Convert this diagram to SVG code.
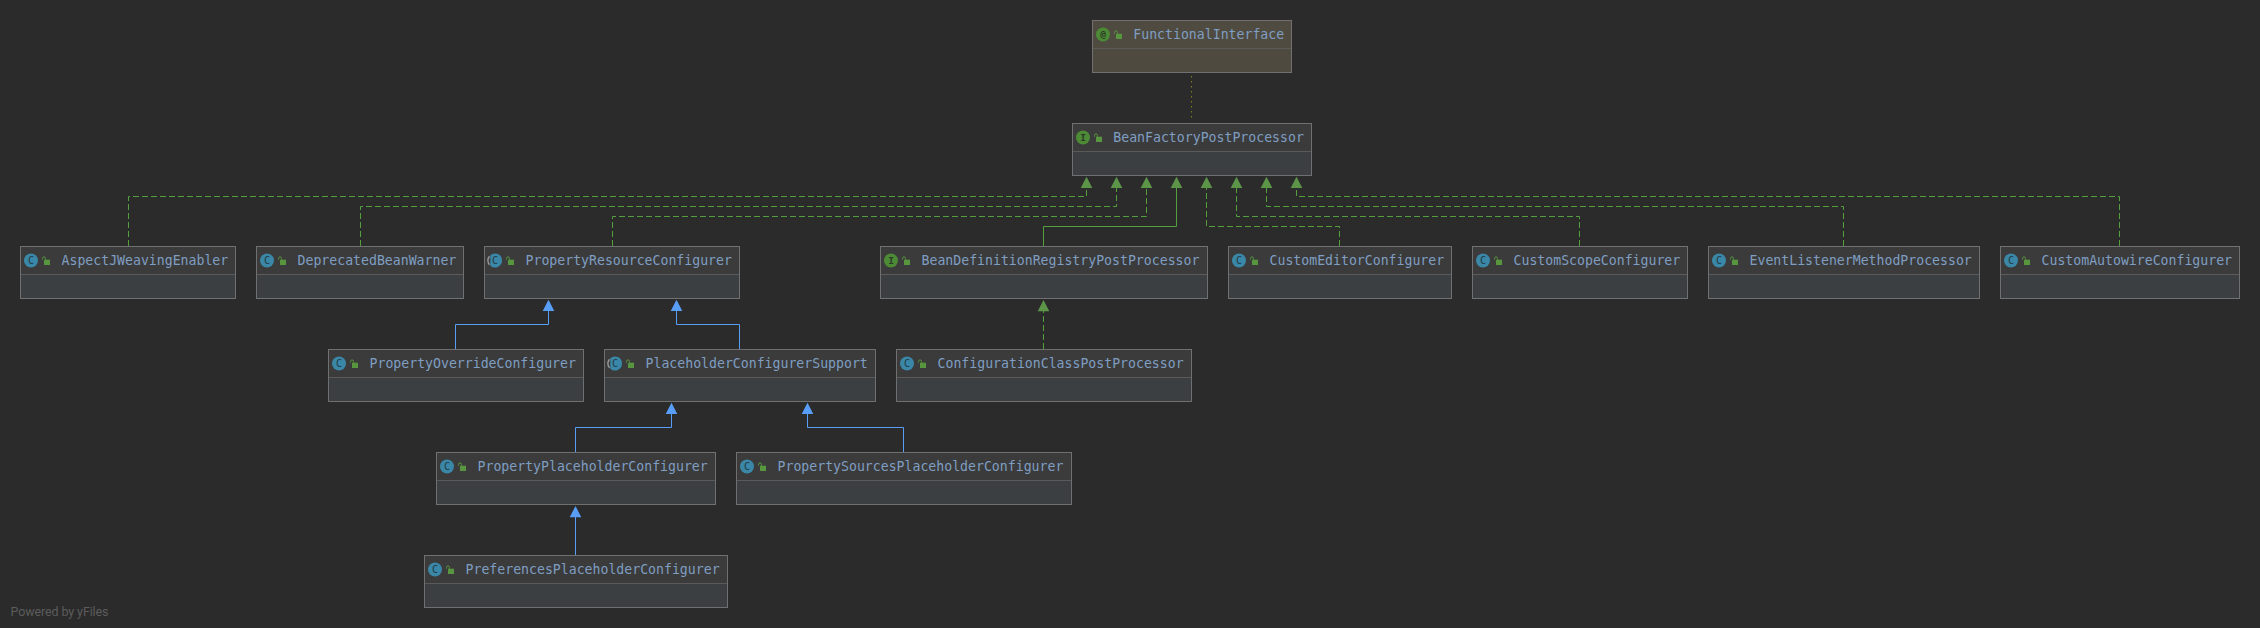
<svg xmlns="http://www.w3.org/2000/svg" width="2260" height="628" viewBox="0 0 2260 628">
<style>
.h{fill:#3b3b3b}.b{fill:#3c3f41}.f{fill:none;stroke:#707070;stroke-width:1}
.d{stroke:#5a5a5a;stroke-width:1}
.ah{fill:#4f4b41}.ab{fill:#4e4a3f}
.t{font-family:"DejaVu Sans Mono","Liberation Mono",monospace;font-size:13.2px;fill:#7f9ec2}
.g{font-family:"DejaVu Sans Mono",monospace;font-size:10px;fill:#233a44;text-anchor:middle}
.gi{font-family:"DejaVu Sans Mono",monospace;font-weight:bold;font-size:9.5px;fill:#2b3a26;text-anchor:middle}
.e{fill:none;stroke-width:1}
.gr{stroke:#559e3e}.bl{stroke:#589df6}
.da{stroke-dasharray:6 3}
.at{fill:#5c9548}.ab2{fill:#589df6}
.p{font-family:Roboto,"Liberation Sans",sans-serif;font-size:12.5px;fill:#5c5c5c}
</style>
<defs>
<g id="lock"><rect x="2" y="-0.8" width="6" height="5.3" fill="#57953f"/><path d="M0.5 -0.8V-2Q0.5 -3.6 2 -3.6Q3.5 -3.6 3.5 -2V-0.8" fill="none" stroke="#57953f" stroke-width="1"/></g>
<g id="ic"><circle r="7" fill="#3a87a8"/><text class="g" y="3.4">C</text></g>
<g id="ia"><path d="M-4.7 -5.2A7 7 0 0 1 7 0A7 7 0 0 1 -4.7 5.2Z" fill="#3a87a8"/><path d="M-5.5 -4.3A7 7 0 0 0 -5.5 4.3" fill="none" stroke="#9a9a9a" stroke-width="1.4"/><text class="g" y="3.4">C</text></g>
<g id="ii"><circle r="7" fill="#4d8a36"/><text class="gi" y="3.2">I</text></g>
<g id="ian"><circle r="7" fill="#4d8a36"/><text class="gi" y="3.2">@</text></g>
<path id="ag" d="M0 0L5.8 11.2H-5.8Z" class="at"/>
<path id="ab" d="M0 0L5.8 11.2H-5.8Z" class="ab2"/>
</defs>
<rect width="2260" height="628" fill="#2b2b2b"/>
<g id="connectors">
<path class="e" stroke="#7d7d20" stroke-dasharray="1.5 3.5" d="M1191.5 76V121"/>
<path class="e gr da" d="M128.5 246V196.5H1086.5V187"/>
<path class="e gr da" d="M360.5 246V206.5H1116.5V187"/>
<path class="e gr da" d="M612.5 246V216.5H1146.5V187"/>
<path class="e gr" d="M1043.5 246V226.5H1176.5V187"/>
<path class="e gr da" d="M1339.5 246V226.5H1206.5V187"/>
<path class="e gr da" d="M1579.5 246V216.5H1236.5V187"/>
<path class="e gr da" d="M1843.5 246V206.5H1266.5V187"/>
<path class="e gr da" d="M2119.5 246V196.5H1296.5V187"/>
<path class="e gr da" d="M1043.5 349V311"/>
<path class="e bl" d="M455.5 349V324.5H548.5V310"/>
<path class="e bl" d="M739.5 349V324.5H676.5V310"/>
<path class="e bl" d="M575.5 452V427.5H671.5V413"/>
<path class="e bl" d="M903.5 452V427.5H807.5V413"/>
<path class="e bl" d="M575.5 555V516"/>
<use href="#ag" x="1086.5" y="176.7"/><use href="#ag" x="1116.5" y="176.7"/><use href="#ag" x="1146.5" y="176.7"/><use href="#ag" x="1176.5" y="176.7"/><use href="#ag" x="1206.5" y="176.7"/><use href="#ag" x="1236.5" y="176.7"/><use href="#ag" x="1266.5" y="176.7"/><use href="#ag" x="1296.5" y="176.7"/>
<use href="#ag" x="1043.5" y="300"/>
<use href="#ab" x="548.5" y="299.7"/><use href="#ab" x="676.5" y="299.7"/><use href="#ab" x="671.5" y="402.7"/><use href="#ab" x="807.5" y="402.7"/><use href="#ab" x="575.5" y="506"/>
</g>
<g id="FunctionalInterface"><rect class="ab" x="1092.5" y="20.5" width="199" height="52"/><rect class="ah" x="1092.5" y="20.5" width="199" height="28"/><path class="d" d="M1092.5 48.5H1291.5"/><rect class="f" x="1092.5" y="20.5" width="199" height="52"/><use href="#ian" x="1103" y="34.5"/><use href="#lock" x="1114" y="34.5"/><text class="t" x="1133.3" y="39">FunctionalInterface</text></g>
<g id="BeanFactoryPostProcessor"><rect class="b" x="1072.5" y="123.5" width="239" height="52"/><rect class="h" x="1072.5" y="123.5" width="239" height="28"/><path class="d" d="M1072.5 151.5H1311.5"/><rect class="f" x="1072.5" y="123.5" width="239" height="52"/><use href="#ii" x="1083" y="137.5"/><use href="#lock" x="1094" y="137.5"/><text class="t" x="1113.3" y="142">BeanFactoryPostProcessor</text></g>
<g id="AspectJWeavingEnabler"><rect class="b" x="20.5" y="246.5" width="215" height="52"/><rect class="h" x="20.5" y="246.5" width="215" height="28"/><path class="d" d="M20.5 274.5H235.5"/><rect class="f" x="20.5" y="246.5" width="215" height="52"/><use href="#ic" x="31" y="260.5"/><use href="#lock" x="42" y="260.5"/><text class="t" x="61.5" y="265">AspectJWeavingEnabler</text></g>
<g id="DeprecatedBeanWarner"><rect class="b" x="256.5" y="246.5" width="207" height="52"/><rect class="h" x="256.5" y="246.5" width="207" height="28"/><path class="d" d="M256.5 274.5H463.5"/><rect class="f" x="256.5" y="246.5" width="207" height="52"/><use href="#ic" x="267" y="260.5"/><use href="#lock" x="278" y="260.5"/><text class="t" x="297.5" y="265">DeprecatedBeanWarner</text></g>
<g id="PropertyResourceConfigurer"><rect class="b" x="484.5" y="246.5" width="255" height="52"/><rect class="h" x="484.5" y="246.5" width="255" height="28"/><path class="d" d="M484.5 274.5H739.5"/><rect class="f" x="484.5" y="246.5" width="255" height="52"/><use href="#ia" x="495" y="260.5"/><use href="#lock" x="506" y="260.5"/><text class="t" x="525.5" y="265">PropertyResourceConfigurer</text></g>
<g id="BeanDefinitionRegistryPostProcessor"><rect class="b" x="880.5" y="246.5" width="327" height="52"/><rect class="h" x="880.5" y="246.5" width="327" height="28"/><path class="d" d="M880.5 274.5H1207.5"/><rect class="f" x="880.5" y="246.5" width="327" height="52"/><use href="#ii" x="891" y="260.5"/><use href="#lock" x="902" y="260.5"/><text class="t" x="921.5" y="265">BeanDefinitionRegistryPostProcessor</text></g>
<g id="CustomEditorConfigurer"><rect class="b" x="1228.5" y="246.5" width="223" height="52"/><rect class="h" x="1228.5" y="246.5" width="223" height="28"/><path class="d" d="M1228.5 274.5H1451.5"/><rect class="f" x="1228.5" y="246.5" width="223" height="52"/><use href="#ic" x="1239" y="260.5"/><use href="#lock" x="1250" y="260.5"/><text class="t" x="1269.5" y="265">CustomEditorConfigurer</text></g>
<g id="CustomScopeConfigurer"><rect class="b" x="1472.5" y="246.5" width="215" height="52"/><rect class="h" x="1472.5" y="246.5" width="215" height="28"/><path class="d" d="M1472.5 274.5H1687.5"/><rect class="f" x="1472.5" y="246.5" width="215" height="52"/><use href="#ic" x="1483" y="260.5"/><use href="#lock" x="1494" y="260.5"/><text class="t" x="1513.5" y="265">CustomScopeConfigurer</text></g>
<g id="EventListenerMethodProcessor"><rect class="b" x="1708.5" y="246.5" width="271" height="52"/><rect class="h" x="1708.5" y="246.5" width="271" height="28"/><path class="d" d="M1708.5 274.5H1979.5"/><rect class="f" x="1708.5" y="246.5" width="271" height="52"/><use href="#ic" x="1719" y="260.5"/><use href="#lock" x="1730" y="260.5"/><text class="t" x="1749.5" y="265">EventListenerMethodProcessor</text></g>
<g id="CustomAutowireConfigurer"><rect class="b" x="2000.5" y="246.5" width="239" height="52"/><rect class="h" x="2000.5" y="246.5" width="239" height="28"/><path class="d" d="M2000.5 274.5H2239.5"/><rect class="f" x="2000.5" y="246.5" width="239" height="52"/><use href="#ic" x="2011" y="260.5"/><use href="#lock" x="2022" y="260.5"/><text class="t" x="2041.5" y="265">CustomAutowireConfigurer</text></g>
<g id="PropertyOverrideConfigurer"><rect class="b" x="328.5" y="349.5" width="255" height="52"/><rect class="h" x="328.5" y="349.5" width="255" height="28"/><path class="d" d="M328.5 377.5H583.5"/><rect class="f" x="328.5" y="349.5" width="255" height="52"/><use href="#ic" x="339" y="363.5"/><use href="#lock" x="350" y="363.5"/><text class="t" x="369.5" y="368">PropertyOverrideConfigurer</text></g>
<g id="PlaceholderConfigurerSupport"><rect class="b" x="604.5" y="349.5" width="271" height="52"/><rect class="h" x="604.5" y="349.5" width="271" height="28"/><path class="d" d="M604.5 377.5H875.5"/><rect class="f" x="604.5" y="349.5" width="271" height="52"/><use href="#ia" x="615" y="363.5"/><use href="#lock" x="626" y="363.5"/><text class="t" x="645.5" y="368">PlaceholderConfigurerSupport</text></g>
<g id="ConfigurationClassPostProcessor"><rect class="b" x="896.5" y="349.5" width="295" height="52"/><rect class="h" x="896.5" y="349.5" width="295" height="28"/><path class="d" d="M896.5 377.5H1191.5"/><rect class="f" x="896.5" y="349.5" width="295" height="52"/><use href="#ic" x="907" y="363.5"/><use href="#lock" x="918" y="363.5"/><text class="t" x="937.5" y="368">ConfigurationClassPostProcessor</text></g>
<g id="PropertyPlaceholderConfigurer"><rect class="b" x="436.5" y="452.5" width="279" height="52"/><rect class="h" x="436.5" y="452.5" width="279" height="28"/><path class="d" d="M436.5 480.5H715.5"/><rect class="f" x="436.5" y="452.5" width="279" height="52"/><use href="#ic" x="447" y="466.5"/><use href="#lock" x="458" y="466.5"/><text class="t" x="477.5" y="471">PropertyPlaceholderConfigurer</text></g>
<g id="PropertySourcesPlaceholderConfigurer"><rect class="b" x="736.5" y="452.5" width="335" height="52"/><rect class="h" x="736.5" y="452.5" width="335" height="28"/><path class="d" d="M736.5 480.5H1071.5"/><rect class="f" x="736.5" y="452.5" width="335" height="52"/><use href="#ic" x="747" y="466.5"/><use href="#lock" x="758" y="466.5"/><text class="t" x="777.5" y="471">PropertySourcesPlaceholderConfigurer</text></g>
<g id="PreferencesPlaceholderConfigurer"><rect class="b" x="424.5" y="555.5" width="303" height="52"/><rect class="h" x="424.5" y="555.5" width="303" height="28"/><path class="d" d="M424.5 583.5H727.5"/><rect class="f" x="424.5" y="555.5" width="303" height="52"/><use href="#ic" x="435" y="569.5"/><use href="#lock" x="446" y="569.5"/><text class="t" x="465.5" y="574">PreferencesPlaceholderConfigurer</text></g>
<text class="p" x="10.5" y="616" textLength="98">Powered by yFiles</text>
</svg>
